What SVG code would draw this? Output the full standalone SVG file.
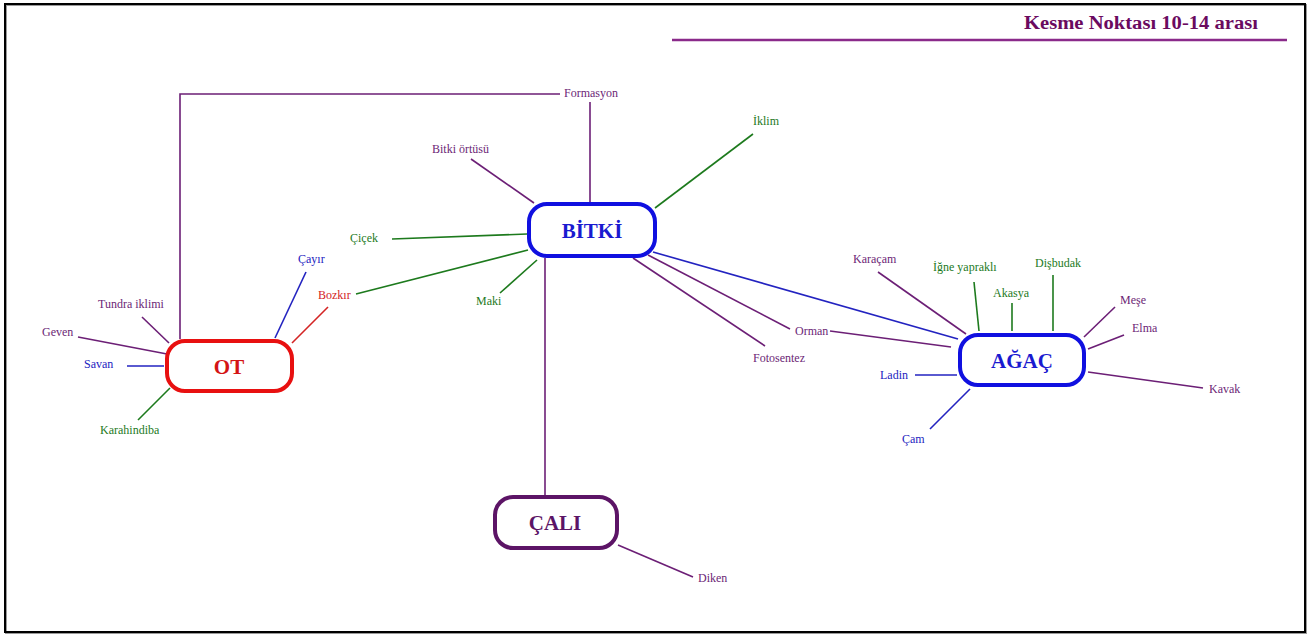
<svg xmlns="http://www.w3.org/2000/svg" width="1308" height="635" viewBox="0 0 1308 635">
  <style>
    text { font-family: "Liberation Serif", "Times New Roman", serif; }
    .lbl { font-size: 12px; }
    .node-label { font-size: 21px; font-weight: bold; text-anchor: middle; }
    .box { fill: #ffffff; stroke-width: 4; }
    .c { fill: none; stroke-width: 1.6; }
    .p { stroke: #6c1f76; }
    .g { stroke: #1d7a1d; }
    .b { stroke: #2323c0; }
    .r { stroke: #d42424; }
    .tp { fill: #6c1f76; }
    .tg { fill: #1d7a1d; }
    .tb { fill: #2323c0; }
    .tr { fill: #d42424; }
  </style>

  <!-- page frame -->
  <rect x="0" y="0" width="1308" height="635" fill="#ffffff"/>
  <rect x="6" y="5" width="1300" height="628" fill="none" stroke="#9a9a9a" stroke-width="2"/>
  <rect x="5" y="4" width="1300" height="628" fill="none" stroke="#000000" stroke-width="2"/>

  <!-- heading -->
  <g id="title">
    <text x="1258" y="29" text-anchor="end" font-size="18" font-weight="bold" fill="#6b0a5f" textLength="234" lengthAdjust="spacingAndGlyphs">Kesme Noktası 10-14 arası</text>
    <line x1="672" y1="40" x2="1287" y2="40" stroke="#8a2a8a" stroke-width="2.5"/>
  </g>

  <!-- connectors -->
  <g id="connectors">
    <!-- Formasyon -->
    <polyline class="c p" points="560,94 180,94 180,339"/>
    <line class="c p" x1="590" y1="102" x2="590" y2="202"/>
    <!-- BİTKİ branches -->
    <line class="c g" x1="753" y1="134" x2="655" y2="208"/>
    <line class="c p" x1="471" y1="159" x2="534" y2="203"/>
    <line class="c g" x1="392" y1="239" x2="527" y2="234"/>
    <line class="c g" x1="356" y1="294" x2="528" y2="250"/>
    <line class="c g" x1="500" y1="293" x2="537" y2="260"/>
    <line class="c p" x1="545" y1="258" x2="545" y2="495"/>
    <line class="c b" x1="653" y1="252" x2="958" y2="339"/>
    <line class="c p" x1="648" y1="255" x2="790" y2="329"/>
    <line class="c p" x1="633" y1="258" x2="765" y2="346"/>
    <line class="c p" x1="830" y1="331" x2="951" y2="347"/>
    <!-- OT branches -->
    <line class="c b" x1="306" y1="272" x2="275" y2="338"/>
    <line class="c r" x1="328" y1="307" x2="292" y2="343"/>
    <line class="c p" x1="142" y1="317" x2="169" y2="343"/>
    <line class="c p" x1="78" y1="337" x2="167" y2="354"/>
    <line class="c b" x1="127" y1="366" x2="164" y2="366"/>
    <line class="c g" x1="138" y1="420" x2="170" y2="388"/>
    <!-- AĞAÇ branches -->
    <line class="c p" x1="878" y1="272" x2="966" y2="334"/>
    <line class="c g" x1="974" y1="282" x2="979" y2="331"/>
    <line class="c g" x1="1012" y1="303" x2="1012" y2="331"/>
    <line class="c g" x1="1053" y1="275" x2="1053" y2="331"/>
    <line class="c p" x1="1115" y1="307" x2="1084" y2="337"/>
    <line class="c p" x1="1124" y1="335" x2="1088" y2="349"/>
    <line class="c p" x1="1203" y1="388" x2="1088" y2="372"/>
    <line class="c b" x1="915" y1="375" x2="957" y2="375"/>
    <line class="c b" x1="930" y1="429" x2="970" y2="389"/>
    <!-- ÇALI branch -->
    <line class="c p" x1="618" y1="545" x2="693" y2="577"/>
  </g>

  <!-- main nodes -->
  <g id="node-bitki">
    <rect class="box" x="529" y="204" width="126" height="52" rx="18" stroke="#1010e0"/>
    <text class="node-label" x="592" y="238" fill="#1a1ad0">BİTKİ</text>
  </g>
  <g id="node-ot">
    <rect class="box" x="167" y="341" width="125" height="50" rx="18" stroke="#e81010"/>
    <text class="node-label" x="229" y="374" fill="#d41414">OT</text>
  </g>
  <g id="node-agac">
    <rect class="box" x="960" y="335" width="124" height="50" rx="18" stroke="#1010e0"/>
    <text class="node-label" x="1022" y="368" fill="#1a1ad0">AĞAÇ</text>
  </g>
  <g id="node-cali">
    <rect class="box" x="495" y="497" width="122" height="51" rx="18" stroke="#5c1466"/>
    <text class="node-label" x="555" y="530" fill="#5c1466">ÇALI</text>
  </g>

  <!-- leaf labels -->
  <g id="node-formasyon"><text class="lbl tp" x="564" y="97">Formasyon</text></g>
  <g id="node-iklim"><text class="lbl tg" x="753" y="125">İklim</text></g>
  <g id="node-bitki-ortusu"><text class="lbl tp" x="432" y="153">Bitki örtüsü</text></g>
  <g id="node-cicek"><text class="lbl tg" x="350" y="242">Çiçek</text></g>
  <g id="node-bozkir"><text class="lbl tr" x="318" y="299">Bozkır</text></g>
  <g id="node-maki"><text class="lbl tg" x="476" y="305">Maki</text></g>
  <g id="node-orman"><text class="lbl tp" x="795" y="335">Orman</text></g>
  <g id="node-fotosentez"><text class="lbl tp" x="753" y="362">Fotosentez</text></g>

  <g id="node-cayir"><text class="lbl tb" x="298" y="263">Çayır</text></g>
  <g id="node-tundra"><text class="lbl tp" x="98" y="308">Tundra iklimi</text></g>
  <g id="node-geven"><text class="lbl tp" x="42" y="336">Geven</text></g>
  <g id="node-savan"><text class="lbl tb" x="84" y="368">Savan</text></g>
  <g id="node-karahindiba"><text class="lbl tg" x="100" y="434">Karahindiba</text></g>

  <g id="node-karacam"><text class="lbl tp" x="853" y="263">Karaçam</text></g>
  <g id="node-igne"><text class="lbl tg" x="933" y="271">İğne yapraklı</text></g>
  <g id="node-akasya"><text class="lbl tg" x="993" y="297">Akasya</text></g>
  <g id="node-disbudak"><text class="lbl tg" x="1035" y="267">Dişbudak</text></g>
  <g id="node-mese"><text class="lbl tp" x="1120" y="304">Meşe</text></g>
  <g id="node-elma"><text class="lbl tp" x="1132" y="332">Elma</text></g>
  <g id="node-kavak"><text class="lbl tp" x="1209" y="393">Kavak</text></g>
  <g id="node-ladin"><text class="lbl tb" x="880" y="379">Ladin</text></g>
  <g id="node-cam"><text class="lbl tb" x="902" y="443">Çam</text></g>

  <g id="node-diken"><text class="lbl tp" x="698" y="582">Diken</text></g>
</svg>
